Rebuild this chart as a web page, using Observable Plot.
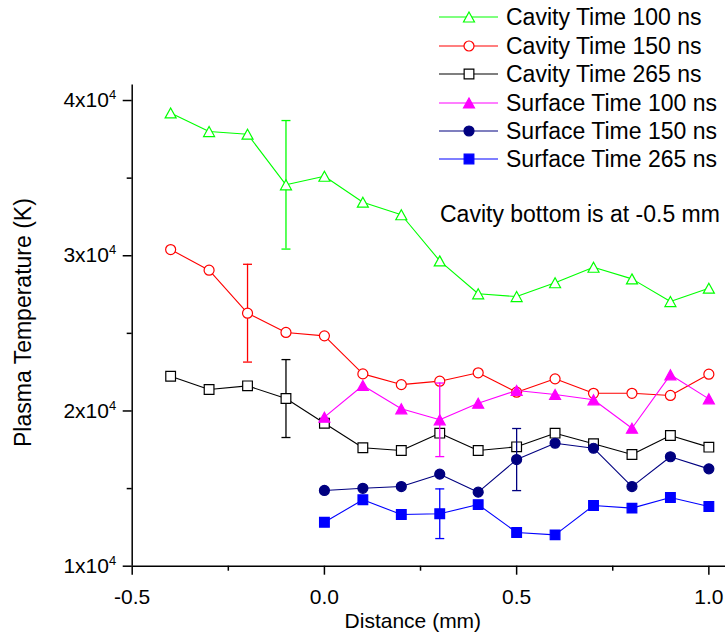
<!DOCTYPE html>
<html><head><meta charset="utf-8">
<script src="https://cdn.jsdelivr.net/npm/d3@7"></script>
<script src="https://cdn.jsdelivr.net/npm/@observablehq/plot@0.6"></script>
<style>
body{margin:0;background:#fff;}
#wrap{position:relative;width:725px;height:644px;font-family:"Liberation Sans",Arial,sans-serif;color:#000;}
#wrap svg.chart{position:absolute;left:0;top:0;}
.leg{position:absolute;height:28px;}
.leg svg{position:absolute;left:0;top:0;}
.leg span{position:absolute;left:67px;top:0;line-height:28px;font-size:23px;white-space:nowrap;}
#note{position:absolute;left:440px;top:200px;font-size:23px;line-height:28px;white-space:nowrap;}
</style></head><body><div id="wrap"></div>
<script>
// ---- data ----
const distance = [-0.4,-0.3,-0.2,-0.1,0.0,0.1,0.2,0.3,0.4,0.5,0.6,0.7,0.8,0.9,1.0];
const surfaceDistance = [0.0,0.1,0.2,0.3,0.4,0.5,0.6,0.7,0.8,0.9,1.0];
const cavity100 = [39200,38000,37830,34570,35120,33450,32640,29670,27550,27370,28260,29260,28510,27050,27910];
const cavity150 = [30400,29070,26300,25060,24840,22390,21700,21920,22460,21210,22070,21140,21140,21000,22370];
const cavity265 = [22240,21380,21620,20800,19210,17630,17450,18570,17450,17690,18570,17890,17200,18420,17670];
const surface100 = [19600,21640,20140,19430,20500,21320,21060,20720,18890,22330,20780];
const surface150 = [14880,15020,15130,15930,14770,16870,17920,17600,15130,17050,16270];
const surface265 = [12830,14280,13330,13380,13970,12170,12020,13910,13740,14430,13850];
const seriesNames = ["Cavity Time 100 ns","Cavity Time 150 ns","Cavity Time 265 ns","Surface Time 100 ns","Surface Time 150 ns","Surface Time 265 ns"];
const seriesColors = ["#00ff00","#ff0000","#000000","#ff00ff","#000080","#0000ff"];
const errorAt = [-0.1,-0.2,-0.1,0.3,0.5,0.3];
const errorHalf = [4140,3150,2510,2370,2000,1600];
const xTicks = [-0.5,0.0,0.5,1.0];
const xMinorTicks = [-0.25,0.25,0.75];
const yTicks = [10000,20000,30000,40000];
const yMinorTicks = [15000,25000,35000];
const xLabel = "Distance (mm)";
const yLabel = "Plasma Temperature (K)";
const noteText = "Cavity bottom is at -0.5 mm";

// ---- symbols ----
const symTriangle = {draw(ctx, size){const r=Math.sqrt(size/Math.PI);const w=r*1.1,h=r;ctx.moveTo(0,-h);ctx.lineTo(w,h);ctx.lineTo(-w,h);ctx.closePath();}};
const symSquare = {draw(ctx, size){const r=Math.sqrt(size/Math.PI);const s=r*0.97;ctx.rect(-s,-s,2*s,2*s);}};
const symCircle = {draw(ctx, size){const r=Math.sqrt(size/Math.PI);ctx.moveTo(r,0);ctx.arc(0,0,r,0,2*Math.PI);}};
const symCap = {draw(ctx, size){const r=Math.sqrt(size/Math.PI);ctx.moveTo(-r,0);ctx.lineTo(r,0);}};
const seriesX = [distance,distance,distance,surfaceDistance,surfaceDistance,surfaceDistance];
const seriesY = [cavity100,cavity150,cavity265,surface100,surface150,surface265];
const seriesSymbols = [symTriangle,symCircle,symSquare,symTriangle,symCircle,symSquare];
const seriesFilled = [false,false,false,true,true,true];

const marks = [];
seriesNames.forEach((name,i)=>{
  const rows = seriesX[i].map((x,j)=>({x, y: seriesY[i][j]}));
  const c = seriesColors[i];
  marks.push(Plot.line(rows,{x:"x",y:"y",stroke:c,strokeWidth:1.1}));
  const k = seriesX[i].findIndex(v=>Math.abs(v-errorAt[i])<1e-9);
  const e = [{x: errorAt[i], y1: seriesY[i][k]-errorHalf[i], y2: seriesY[i][k]+errorHalf[i]}];
  marks.push(Plot.ruleX(e,{x:"x",y1:"y1",y2:"y2",stroke:c,strokeWidth:1.3}));
  marks.push(Plot.dot(e,{x:"x",y:"y1",symbol:symCap,r:4.5,stroke:c,strokeWidth:1.3,fill:"none"}));
  marks.push(Plot.dot(e,{x:"x",y:"y2",symbol:symCap,r:4.5,stroke:c,strokeWidth:1.3,fill:"none"}));
  marks.push(Plot.dot(rows,{x:"x",y:"y",symbol:seriesSymbols[i],r:5,
    stroke:c,strokeWidth:1.2,fill: seriesFilled[i]? c : "white"}));
});

const chart = Plot.plot({
  width:725, height:644,
  marginLeft:131.7, marginRight:0, marginTop:84.5, marginBottom:78.3,
  style:{fontFamily:'"Liberation Sans", Arial, sans-serif', color:"#000", background:"white"},
  x:{domain:[-0.5,1.0433]},
  y:{domain:[10000,41000]},
  marks:[
    Plot.axisX({ticks:xTicks,tickSize:9,tickPadding:14,tickFormat:d=>d.toFixed(1),fontSize:21,label:null,strokeWidth:1.5,strokeOpacity:1}),
    Plot.axisX({ticks:xMinorTicks,tickSize:5,tickFormat:()=>"",label:null,strokeWidth:1.5,strokeOpacity:1}),
    Plot.axisY({ticks:yTicks,tickSize:9,tickPadding:7,tickFormat:d=>`${d/1e4}x10^4`,fontSize:21,label:null,strokeWidth:1.5,strokeOpacity:1}),
    Plot.axisY({ticks:yMinorTicks,tickSize:5,tickFormat:()=>"",label:null,strokeWidth:1.5,strokeOpacity:1}),
    Plot.ruleY([10000],{strokeWidth:1.5}),
    Plot.ruleX([-0.5],{strokeWidth:1.5}),
    Plot.text([xLabel],{text:d=>d,frameAnchor:"bottom",dy:62,dx:-16,fontSize:21}),
    Plot.text([yLabel],{text:d=>d,frameAnchor:"left",textAnchor:"middle",rotate:-90,dx:-109,dy:-3,fontSize:23}),
    ...marks
  ]
});
chart.classList.add("chart");
const wrap = document.getElementById("wrap");
wrap.appendChild(chart);

// superscript exponents on y tick labels
chart.querySelectorAll("text").forEach(t=>{
  const s = t.textContent;
  const m = /^(.*x10)\^(\d+)$/.exec(s);
  if(m){
    t.textContent = m[1];
    const ts = document.createElementNS("http://www.w3.org/2000/svg","tspan");
    ts.setAttribute("font-size","13");
    ts.setAttribute("dy","-8");
    ts.textContent = m[2];
    t.appendChild(ts);
  }
});

// legend
const legendTop = [16.7,45.7,74,102.7,131,159.3];
seriesNames.forEach((name,i)=>{
  const row = document.createElement("div");
  row.className="leg";
  row.style.left="439px";
  row.style.top=(legendTop[i]-14)+"px";
  const svg = d3.create("svg").attr("width",67).attr("height",28);
  svg.append("line").attr("x1",0).attr("x2",59).attr("y1",14).attr("y2",14).attr("stroke",seriesColors[i]).attr("stroke-width",1.1);
  svg.append("path").attr("transform","translate(30,14)")
    .attr("d",d3.symbol(seriesSymbols[i], 25*Math.PI)())
    .attr("stroke",seriesColors[i]).attr("stroke-width",1.2)
    .attr("fill",seriesFilled[i]?seriesColors[i]:"white");
  row.appendChild(svg.node());
  const sp = document.createElement("span");
  sp.textContent = name;
  row.appendChild(sp);
  wrap.appendChild(row);
});
const note = document.createElement("div");
note.id="note"; note.textContent = noteText;
wrap.appendChild(note);
</script></body></html>
